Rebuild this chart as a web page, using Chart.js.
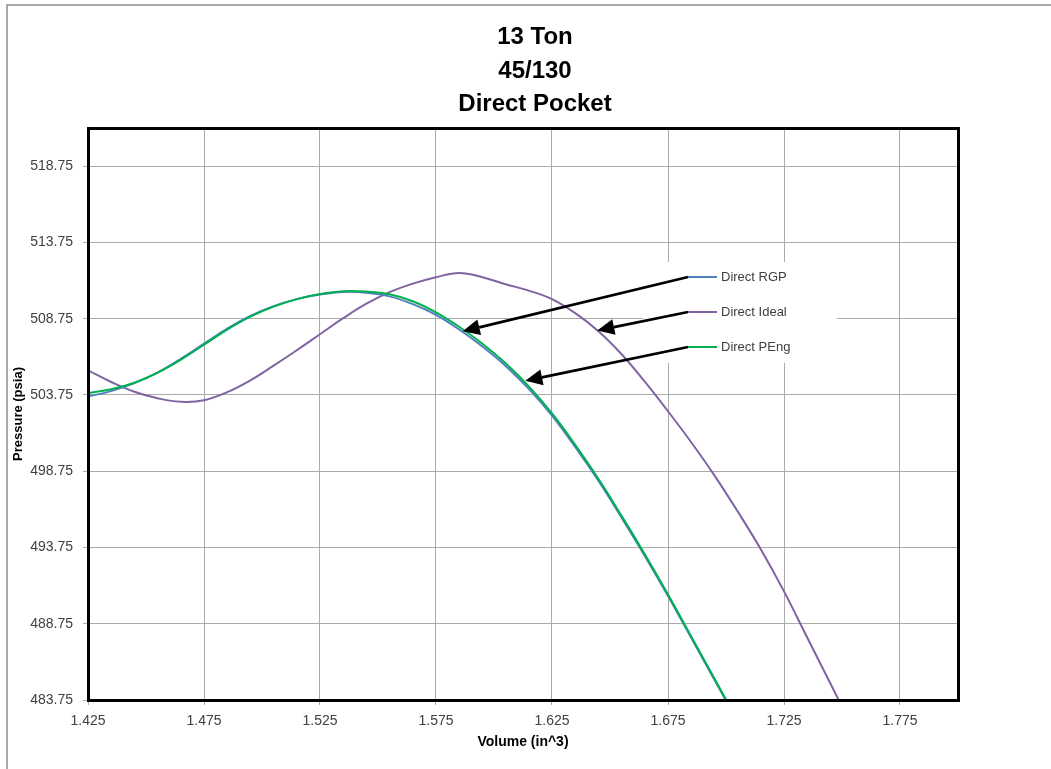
<!DOCTYPE html>
<html>
<head>
<meta charset="utf-8">
<script src="https://cdn.jsdelivr.net/npm/chart.js@4/dist/chart.umd.min.js"></script>
<style>
html,body{margin:0;padding:0;background:#fff;}
#wrap{width:1051px;height:769px;position:relative;}
</style>
</head>
<body>
<div id="wrap"><canvas id="c" width="1051" height="769"></canvas></div>
<script>
// ---- text ----
const titleLines = ['13 Ton', '45/130', 'Direct Pocket'];
const xAxisTitle = 'Volume (in^3)';
const yAxisTitle = 'Pressure (psia)';
const seriesNames = ['Direct RGP', 'Direct Ideal', 'Direct PEng'];

// ---- tick labels ----
const xTicks = [1.425, 1.475, 1.525, 1.575, 1.625, 1.675, 1.725, 1.775];
const yTicks = [483.75, 488.75, 493.75, 498.75, 503.75, 508.75, 513.75, 518.75];
const xMin = 1.425, xMax = 1.8;
const yMin = 483.75, yMax = 521.25;

// ---- volume samples (in^3) ----
const volumeRGP = [1.425, 1.435, 1.445, 1.455, 1.465, 1.475, 1.485, 1.495, 1.505, 1.515,
                   1.525, 1.535, 1.545, 1.555, 1.565, 1.575, 1.585, 1.595, 1.605, 1.615,
                   1.625, 1.635, 1.645, 1.655, 1.665, 1.675, 1.685, 1.695, 1.705];
const volumePEng = [1.425, 1.435, 1.445, 1.455, 1.465, 1.475, 1.485, 1.495, 1.505, 1.515,
                    1.525, 1.535, 1.545, 1.555, 1.565, 1.575, 1.585, 1.595, 1.605, 1.615,
                    1.625, 1.635, 1.645, 1.655, 1.665, 1.675, 1.685, 1.695, 1.705];
const volumeIdeal = [1.425, 1.435, 1.445, 1.455, 1.465, 1.475, 1.485, 1.495, 1.505, 1.515,
                     1.525, 1.535, 1.545, 1.555, 1.565, 1.575, 1.585, 1.595, 1.605, 1.615,
                     1.625, 1.635, 1.645, 1.655, 1.665, 1.675, 1.685, 1.695, 1.705, 1.715,
                     1.725, 1.735, 1.745, 1.755];

// ---- pressure (psia) ----
const pressureRGP = [503.65, 504.00, 504.52, 505.22, 506.12, 507.11, 508.10, 508.93, 509.57, 510.03,
                     510.33, 510.50, 510.45, 510.21, 509.70, 509.00, 508.04, 506.92, 505.65, 504.15,
                     502.39, 500.34, 498.12, 495.70, 493.19, 490.57, 487.83, 485.08, 482.33];
const pressurePEng = [503.87, 504.12, 504.55, 505.21, 506.06, 507.04, 508.03, 508.88, 509.54, 510.03,
                      510.36, 510.55, 510.53, 510.35, 509.89, 509.17, 508.22, 507.10, 505.82, 504.31,
                      502.54, 500.48, 498.25, 495.82, 493.30, 490.67, 487.92, 485.16, 482.40];
const pressureIdeal = [505.36, 504.60, 503.96, 503.53, 503.30, 503.40, 503.93, 504.71, 505.67, 506.68,
                       507.73, 508.78, 509.73, 510.49, 511.05, 511.47, 511.74, 511.47, 511.01, 510.59,
                       510.03, 509.11, 507.93, 506.42, 504.62, 502.68, 500.65, 498.48, 496.12, 493.63,
                       490.87, 487.85, 484.83, 481.81];

// ---- arrow targets (data coordinates the legend arrows point to) ----
const arrowVolume   = [1.5865, 1.6445, 1.6135];
const arrowPressure = [507.92, 507.98, 504.68];

const colors = ['#4F81BD', '#8064A2', '#00B050'];

function pts(xs, ys) { return xs.map((v, i) => ({ x: v, y: ys[i] })); }

const FONT = '"Liberation Sans", Arial, sans-serif';

const decor = {
  id: 'decor',
  beforeDraw(chart) {
    const ctx = chart.ctx;
    ctx.save();
    ctx.fillStyle = '#ffffff';
    ctx.fillRect(0, 0, chart.width, chart.height);
    ctx.strokeStyle = '#8c8c8c';
    ctx.lineWidth = 1.5;
    ctx.beginPath();
    ctx.moveTo(7, chart.height);
    ctx.lineTo(7, 5);
    ctx.lineTo(chart.width, 5);
    ctx.stroke();
    ctx.restore();
  },
  afterDatasetsDraw(chart) {
    const { ctx, chartArea: a, scales } = chart;
    const xs = scales.x, ys = scales.y;
    ctx.save();
    // plot border
    ctx.strokeStyle = '#000';
    ctx.lineWidth = 3;
    ctx.strokeRect(a.left + 0.5, a.top + 0.5, a.right - a.left, a.bottom - a.top);
    // legend box
    ctx.fillStyle = '#ffffff';
    ctx.fillRect(643, 262, 194, 101);
    chart.data.datasets.forEach((ds, i) => {
      const yy = 277 + i * 35;
      ctx.strokeStyle = ds.borderColor;
      ctx.lineWidth = 2;
      ctx.beginPath();
      ctx.moveTo(688, yy);
      ctx.lineTo(717, yy);
      ctx.stroke();
      ctx.fillStyle = '#404040';
      ctx.font = '13px ' + FONT;
      ctx.textBaseline = 'middle';
      ctx.textAlign = 'left';
      ctx.fillText(ds.label, 721, yy + 0.5);
    });
    // arrows
    for (let i = 0; i < arrowVolume.length; i++) {
      const sx = 688, sy = 277 + i * 35;
      const tx = xs.getPixelForValue(arrowVolume[i]);
      const ty = ys.getPixelForValue(arrowPressure[i]);
      const ang = Math.atan2(ty - sy, tx - sx);
      const hl = 17, hw = 8;
      const bx = tx - hl * Math.cos(ang), by = ty - hl * Math.sin(ang);
      ctx.strokeStyle = '#000';
      ctx.lineWidth = 2.75;
      ctx.beginPath();
      ctx.moveTo(sx, sy);
      ctx.lineTo(bx, by);
      ctx.stroke();
      ctx.fillStyle = '#000';
      ctx.beginPath();
      ctx.moveTo(tx, ty);
      ctx.lineTo(bx - hw * Math.sin(ang), by + hw * Math.cos(ang));
      ctx.lineTo(bx + hw * Math.sin(ang), by - hw * Math.cos(ang));
      ctx.closePath();
      ctx.fill();
    }
    ctx.restore();
  },
  afterDraw(chart) {
    const ctx = chart.ctx;
    ctx.save();
    ctx.fillStyle = '#000';
    ctx.font = 'bold 24px ' + FONT;
    ctx.textAlign = 'center';
    ctx.textBaseline = 'middle';
    const ys = [37, 71, 104];
    titleLines.forEach((t, i) => ctx.fillText(t, 535, ys[i]));
    ctx.restore();
  }
};

new Chart(document.getElementById('c'), {
  type: 'line',
  data: {
    datasets: [
      { label: seriesNames[0], data: pts(volumeRGP, pressureRGP), borderColor: colors[0], order: 1 },
      { label: seriesNames[1], data: pts(volumeIdeal, pressureIdeal), borderColor: colors[1], order: 2 },
      { label: seriesNames[2], data: pts(volumePEng, pressurePEng), borderColor: colors[2], order: 0 }
    ]
  },
  options: {
    responsive: false,
    animation: false,
    events: [],
    devicePixelRatio: 1,
    layout: { padding: { top: 128, right: 93, left: 0, bottom: 0 } },
    elements: {
      point: { radius: 0 },
      line: { borderWidth: 2, tension: 0.4, cubicInterpolationMode: 'default', fill: false }
    },
    plugins: {
      legend: { display: false },
      title: { display: false },
      tooltip: { enabled: false }
    },
    scales: {
      x: {
        type: 'linear',
        min: xMin, max: xMax,
        afterBuildTicks: s => { s.ticks = xTicks.map(v => ({ value: v })); },
        afterFit: s => { s.height = 69; },
        grid: { color: '#AAAAAA', lineWidth: 1, drawTicks: true, tickLength: 5 },
        border: { display: false },
        ticks: {
          color: '#404040', font: { family: FONT, size: 14 }, padding: 8,
          maxRotation: 0, autoSkip: false,
          callback: v => Number(v).toFixed(3)
        },
        title: {
          display: true, text: xAxisTitle, color: '#000',
          font: { family: FONT, size: 14, weight: 'bold' },
          padding: { top: 0, bottom: 18 }
        }
      },
      y: {
        type: 'linear',
        min: yMin, max: yMax,
        afterBuildTicks: s => { s.ticks = yTicks.map(v => ({ value: v })); },
        afterFit: s => { s.width = 88; },
        grid: { color: '#AAAAAA', lineWidth: 1, drawTicks: true, tickLength: 5 },
        border: { display: false },
        ticks: {
          color: '#404040', font: { family: FONT, size: 14 }, padding: 10,
          autoSkip: false,
          callback: v => Number(v).toFixed(2)
        },
        title: {
          display: true, text: yAxisTitle, color: '#000',
          font: { family: FONT, size: 13, weight: 'bold' },
          padding: { top: 11, bottom: 0 }
        }
      }
    }
  },
  plugins: [decor]
});
</script>
</body>
</html>
